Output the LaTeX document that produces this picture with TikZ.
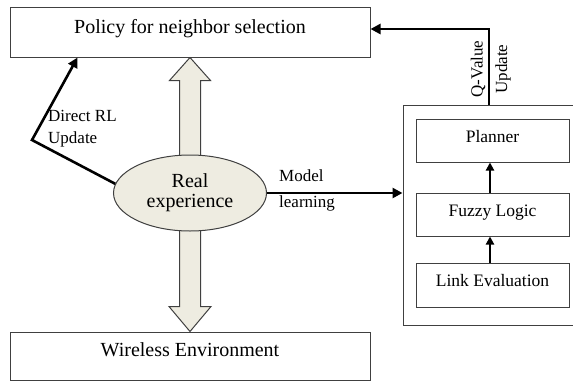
\documentclass[tikz,border=0pt]{standalone}
\usepackage{fontspec}
\setmainfont{Liberation Serif}
\usetikzlibrary{arrows.meta,calc,shapes.geometric,backgrounds}
\definecolor{tanfill}{HTML}{EEECE1}
\definecolor{edgecol}{HTML}{404040}
\begin{document}
\begin{tikzpicture}[x=1pt,y=-1pt,
  box/.style={draw=edgecol, line width=1pt, rectangle, inner sep=0pt},
  bigfont/.style={font=\fontsize{20}{20}\selectfont},
  smallfont/.style={font=\fontsize{17.5}{21}\selectfont},
  lblfont/.style={font=\fontsize{17}{22}\selectfont},
  conn/.style={line width=2.6pt, -{Triangle[length=10pt,width=10pt]}},
  innerconn/.style={line width=2.4pt, -{Triangle[length=8pt,width=8pt]}},
  blockarrow/.style={draw=edgecol, line width=1pt, fill=tanfill, line join=miter}]
\clip (0,0) rectangle (573,381);
% main boxes
\node[box, bigfont, minimum width=360pt, minimum height=50pt, text height=14pt, text depth=11pt] (top) at (190,32) {Policy for neighbor selection};
\node[box, bigfont, minimum width=360pt, minimum height=48pt, text height=14pt, text depth=13pt] (env) at (190,356) {Wireless Environment};
\node[ellipse, draw=edgecol, line width=1pt, fill=tanfill, minimum width=153pt, minimum height=76pt, inner sep=0pt, align=center, bigfont] (ell) at (190,193) {Real\\experience};
% right model box
\node[box, minimum width=172pt, minimum height=220pt] (rl) at (489,215) {};
\node[box, smallfont, minimum width=153pt, minimum height=43pt, text height=12pt, text depth=8pt] (planner) at (492.5,140.5) {Planner};
\node[box, smallfont, minimum width=153pt, minimum height=43pt, text height=12pt, text depth=8pt] (fuzzy) at (492.5,214.5) {Fuzzy Logic};
\node[box, smallfont, minimum width=153pt, minimum height=44pt, text height=12pt, text depth=9pt] (link) at (492.5,285) {Link Evaluation};
% block arrows behind the ellipse
\begin{pgfonlayer}{background}
\draw[blockarrow] ($(ell.center)+(-10.5,0)$) -- ($(top.south)+(-10.5,23)$) -- ($(top.south)+(-20.5,23)$) -- (top.south) -- ($(top.south)+(20.5,23)$) -- ($(top.south)+(10.5,23)$) -- ($(ell.center)+(10.5,0)$) -- cycle;
\draw[blockarrow] ($(ell.center)+(-10.5,0)$) -- ($(env.north)+(-10.5,-25)$) -- ($(env.north)+(-21,-25)$) -- (env.north) -- ($(env.north)+(21,-25)$) -- ($(env.north)+(10.5,-25)$) -- ($(ell.center)+(10.5,0)$) -- cycle;
\end{pgfonlayer}
% connectors
\coordinate (bend) at (32,140);
\draw[conn] (ell.173) -- (bend) -- ($(top.south west)+(68,0)$);
\draw[conn] (ell.east) -- (ell.east -| rl.west);
\draw[conn] (rl.north) |- ($(top.east)+(0,-3)$);
\draw[innerconn] ($(fuzzy.north)+(-2.5,0)$) -- ($(planner.south)+(-2.5,0)$);
\draw[innerconn] ($(link.north)+(-2.5,0)$) -- ($(fuzzy.south)+(-2.5,0)$);
% labels
\node[lblfont, align=left, anchor=west, inner sep=0pt] (drltext) at (48,129) {Direct RL\\Update};
\node[font=\fontsize{17}{26}\selectfont, align=left, anchor=west, inner sep=0pt] (mltext) at (279,190) {Model\\learning};
\node[lblfont, rotate=90, inner sep=0pt] (qvtext) at (478,69) {Q-Value};
\node[lblfont, rotate=90, inner sep=0pt] (updtext) at (503,69) {Update};
\end{tikzpicture}
\end{document}
